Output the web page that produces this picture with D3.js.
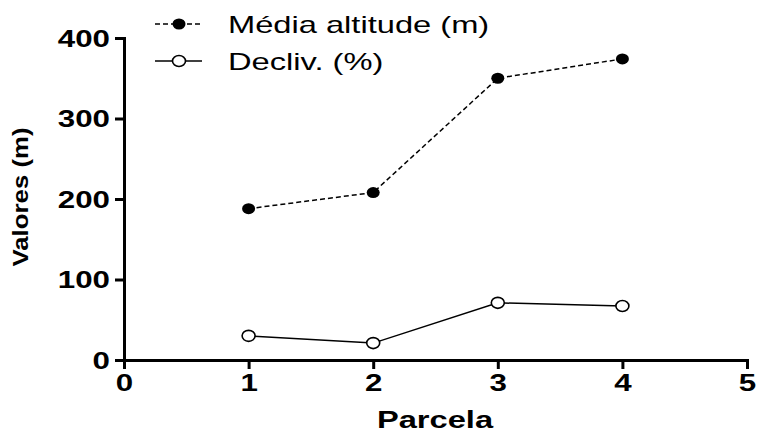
<!DOCTYPE html>
<html>
<head>
<meta charset="utf-8">
<script src="https://cdn.jsdelivr.net/npm/d3@7"></script>
<style>
  html, body { margin: 0; padding: 0; background: #fff; }
  svg { display: block; font-family: "Liberation Sans", Arial, sans-serif; }
</style>
</head>
<body>
<svg id="chart" width="757" height="434"></svg>
<script>
// ---- data ----
const parcelas = [1, 2, 3, 4];
const mediaAltitude = [188, 208, 350, 374];
const decliv = [30, 21, 71, 67];
const xTicks = [0, 1, 2, 3, 4, 5];
const yTicks = [0, 100, 200, 300, 400];
const seriesNames = ["Média altitude (m)", "Decliv. (%)"];
const xTitle = "Parcela";
const yTitle = "Valores (m)";

const STRETCH = 1.36; // horizontal widening of the original's lettering

const svg = d3.select("#chart");
const x = d3.scaleLinear().domain([0, 5]).range([124, 747]);
const y = d3.scaleLinear().domain([0, 400]).range([360, 38]);

function widen(sel, f) {
  sel.each(function () {
    const w = this.getComputedTextLength();
    d3.select(this).attr("textLength", w * (f || STRETCH)).attr("lengthAdjust", "spacingAndGlyphs");
  });
}

// axes
const xAxis = svg.append("g").attr("transform", `translate(0,${y(0)})`)
  .call(d3.axisBottom(x).tickValues(xTicks).tickFormat(d3.format("d")).tickSize(9).tickPadding(6).tickSizeOuter(0));
const yAxis = svg.append("g").attr("transform", `translate(${x(0)},0)`)
  .call(d3.axisLeft(y).tickValues(yTicks).tickFormat(d3.format("d")).tickSize(9).tickPadding(5).tickSizeOuter(0));

[xAxis, yAxis].forEach(g => {
  g.select(".domain").attr("stroke", "#000").attr("stroke-width", 3).attr("stroke-linecap", "square");
  g.selectAll(".tick line").attr("stroke", "#000").attr("stroke-width", 3);
  g.selectAll(".tick text").attr("fill", "#000").attr("font-size", 23).attr("font-weight", "bold")
    .attr("font-family", "'Liberation Sans', Arial, sans-serif");
});
xAxis.selectAll(".tick text").call(widen);
yAxis.selectAll(".tick text").attr("dy", "0.36em").call(widen);

// lines
const line = d3.line().x((d, i) => x(parcelas[i])).y(d => y(d));
svg.append("path").datum(mediaAltitude).attr("d", line)
  .attr("fill", "none").attr("stroke", "#000").attr("stroke-width", 1.5).attr("stroke-dasharray", "5,3");
svg.append("path").datum(decliv).attr("d", line)
  .attr("fill", "none").attr("stroke", "#000").attr("stroke-width", 1.5);

svg.selectAll(".pt-a").data(mediaAltitude).enter().append("ellipse")
  .attr("cx", (d, i) => x(parcelas[i])).attr("cy", d => y(d))
  .attr("rx", 6.5).attr("ry", 5.5).attr("fill", "#000");
svg.selectAll(".pt-d").data(decliv).enter().append("ellipse")
  .attr("cx", (d, i) => x(parcelas[i])).attr("cy", d => y(d))
  .attr("rx", 6.5).attr("ry", 5.5).attr("fill", "#fff").attr("stroke", "#000").attr("stroke-width", 1.6);

// axis titles
svg.append("text").attr("x", 435).attr("y", 428).attr("text-anchor", "middle")
  .attr("font-size", 24).attr("font-weight", "bold").text(xTitle).call(widen);
svg.append("text").attr("transform", "translate(28,197) rotate(-90)").attr("text-anchor", "middle")
  .attr("font-size", 22).attr("font-weight", "bold").text(yTitle)
  .each(function () { d3.select(this).attr("textLength", 139).attr("lengthAdjust", "spacingAndGlyphs"); });

// legend
const legY = [24, 61];
const leg = svg.append("g");
seriesNames.forEach((name, i) => {
  const g = leg.append("g").attr("transform", `translate(0,${legY[i]})`);
  g.append("line").attr("x1", 155).attr("x2", 202).attr("y1", 0).attr("y2", 0)
    .attr("stroke", "#000").attr("stroke-width", 1.5).attr("stroke-dasharray", i === 0 ? "5,3" : null);
  g.append("ellipse").attr("cx", 179).attr("cy", 0).attr("rx", 6.5).attr("ry", 5.5)
    .attr("fill", i === 0 ? "#000" : "#fff").attr("stroke", "#000").attr("stroke-width", i === 0 ? 0 : 1.6);
  g.append("text").attr("x", 228).attr("y", 0).attr("dy", "0.36em")
    .attr("font-size", 24).text(name).call(widen);
});
</script>
</body>
</html>
